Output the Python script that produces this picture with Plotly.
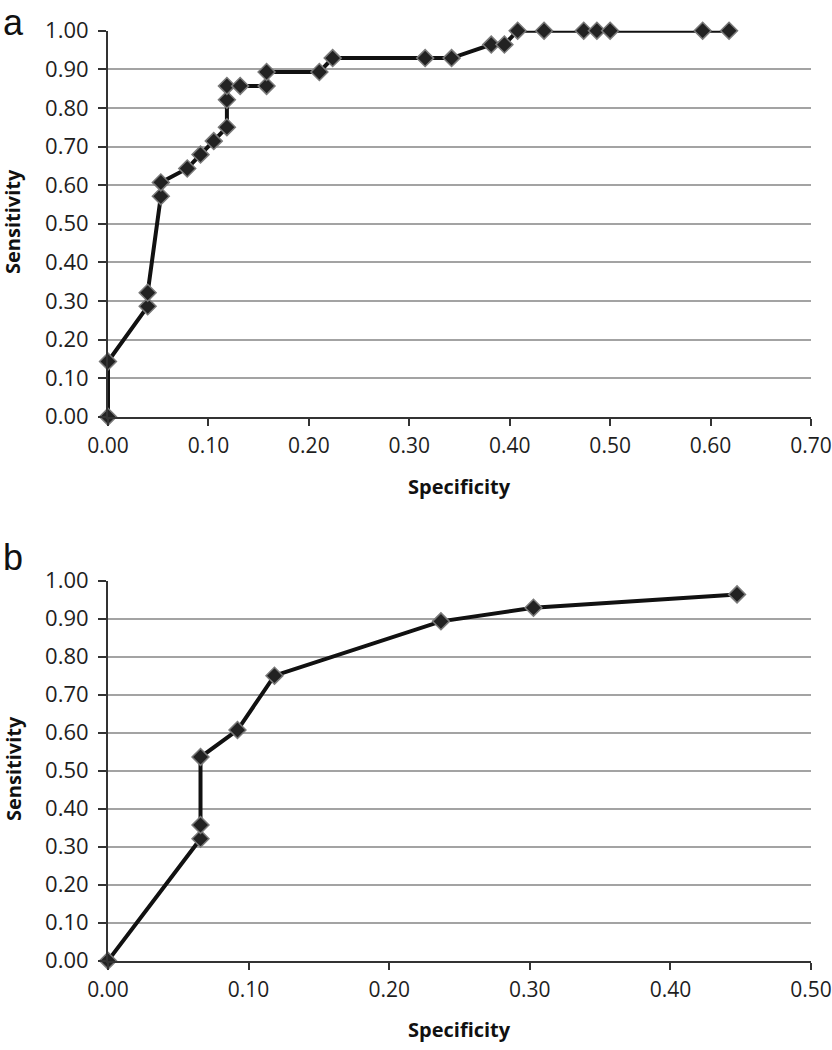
import plotly.graph_objects as go

# Panel a data
spec_a = [0.0, 0.0, 0.0395, 0.0395, 0.0526, 0.0526, 0.0789, 0.0921, 0.1053, 0.1184,
          0.1184, 0.1184, 0.1316, 0.1579, 0.1579, 0.2105, 0.2237, 0.3158, 0.3421,
          0.3816, 0.3947, 0.4079, 0.4342, 0.4737, 0.4868, 0.5000, 0.5921, 0.6184]
sens_a = [0.0, 0.143, 0.286, 0.321, 0.571, 0.607, 0.643, 0.679, 0.714, 0.750,
          0.821, 0.857, 0.857, 0.857, 0.893, 0.893, 0.929, 0.929, 0.929,
          0.964, 0.964, 1.0, 1.0, 1.0, 1.0, 1.0, 1.0, 1.0]

# Panel b data
spec_b = [0.0, 0.0658, 0.0658, 0.0658, 0.0921, 0.1184, 0.2368, 0.3026, 0.4474]
sens_b = [0.0, 0.321, 0.357, 0.536, 0.607, 0.750, 0.893, 0.929, 0.964]

y_ticks = [i / 10 for i in range(11)]
xa_ticks = [i / 10 for i in range(8)]
xb_ticks = [i / 10 for i in range(6)]

W, H = 832, 1050
FONT = "Open Sans"
TICK_COL = "#1e1e1e"


def py(p):
    """page pixel y -> paper fraction"""
    return 1 - p / H


fig = go.Figure()

line_style = dict(color="#111111", width=4)
marker_style = dict(symbol="diamond", size=13, color="#222222",
                    line=dict(color="#7a7a7a", width=1.5))

fig.add_trace(go.Scatter(x=spec_a, y=sens_a, mode="lines+markers",
                         line=line_style, marker=marker_style,
                         xaxis="x", yaxis="y", showlegend=False, cliponaxis=False))
fig.add_trace(go.Scatter(x=spec_b, y=sens_b, mode="lines+markers",
                         line=line_style, marker=marker_style,
                         xaxis="x2", yaxis="y2", showlegend=False, cliponaxis=False))

x0, x1 = 108 / W, 811 / W
ya_dom = [py(416.7), py(30.7)]
yb_dom = [py(960.7), py(580.7)]

common_x = dict(showgrid=False, zeroline=False, showline=True, linecolor="#333333",
                linewidth=2, ticks="outside", ticklen=7, tickwidth=2, tickcolor="#333333",
                tickformat=".2f", tickfont=dict(family=FONT, size=21, color=TICK_COL),
                automargin=False, ticklabelstandoff=2, ticklabeloverflow="allow")
common_y = dict(showgrid=True, gridcolor="#a3a3a3", gridwidth=2, zeroline=False,
                showline=True, linecolor="#333333", linewidth=2, ticks="outside",
                ticklen=8, tickwidth=2, tickcolor="#333333", tickformat=".2f",
                tickvals=y_ticks, range=[0, 1.0], automargin=False, ticklabelstandoff=5,
                ticklabeloverflow="allow",
                tickfont=dict(family=FONT, size=22, color=TICK_COL))

title_font = dict(family=FONT, size=20, color="#111111")
label_font = dict(family="Liberation Sans", size=36, color="#111111")

annotations = [
    dict(text="a", x=1 / W, y=1.0, xref="paper", yref="paper",
         xanchor="left", yanchor="top", showarrow=False, font=label_font),
    dict(text="b", x=1 / W, y=py(580), xref="paper", yref="paper",
         xanchor="left", yanchor="bottom", showarrow=False, font=label_font),
    dict(text="<b>Specificity</b>", x=(x0 + x1) / 2, y=py(486), xref="paper", yref="paper",
         xanchor="center", yanchor="middle", showarrow=False, font=title_font),
    dict(text="<b>Specificity</b>", x=(x0 + x1) / 2, y=py(1029), xref="paper", yref="paper",
         xanchor="center", yanchor="middle", showarrow=False, font=title_font),
    dict(text="<b>Sensitivity</b>", x=13 / W, y=py(222), xref="paper", yref="paper",
         xanchor="center", yanchor="middle", textangle=-90, showarrow=False, font=title_font),
    dict(text="<b>Sensitivity</b>", x=13 / W, y=py(769), xref="paper", yref="paper",
         xanchor="center", yanchor="middle", textangle=-90, showarrow=False, font=title_font),
]

fig.update_layout(
    width=W, height=H,
    margin=dict(l=0, r=0, t=0, b=0),
    paper_bgcolor="white", plot_bgcolor="white",
    xaxis=dict(common_x, domain=[x0, x1], range=[0, 0.70], tickvals=xa_ticks, anchor="y"),
    yaxis=dict(common_y, domain=ya_dom, anchor="x"),
    xaxis2=dict(common_x, domain=[x0, x1], range=[0, 0.50], tickvals=xb_ticks, anchor="y2"),
    yaxis2=dict(common_y, domain=yb_dom, anchor="x2"),
    annotations=annotations,
)

fig.write_html("out.html", config={"displayModeBar": False},
               post_script="document.body.style.margin='0';")
